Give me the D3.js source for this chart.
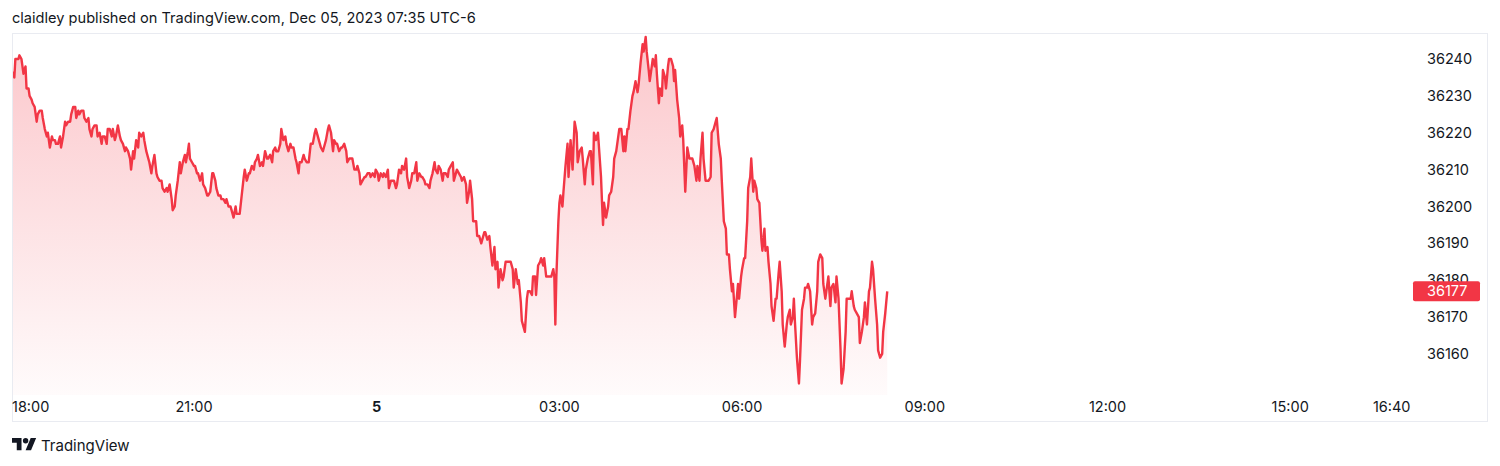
<!DOCTYPE html>
<html><head><meta charset="utf-8">
<script src="https://cdn.jsdelivr.net/npm/d3@7"></script>
<style>
body{margin:0;background:#fff;}
svg{display:block;font-family:Inter,"Open Sans",Roboto,sans-serif;}
</style>
</head><body>
<svg id="chart" width="1500" height="466"></svg>
<script>
// ---- data ----
const headerText = "claidley published on TradingView.com, Dec 05, 2023 07:35 UTC-6";
const brandText = "TradingView";
const sessionStart = new Date(2023, 11, 4, 18, 0);   // Dec 4 18:00
const sessionEnd = new Date(2023, 11, 5, 17, 0);
// minutes after 18:00
const minutes = [0,3,4,7,8,10,11,12,14,15,17,18,20,21,23,25,26,28,30,31,33,35,36,38,40,41,43,44,46,48,49,51,53,54,56,58,59,61,63,64,66,67,69,71,72,74,76,77,79,80,82,84,85,87,89,90,92,94,95,97,99,100,102,103,105,107,108,110,112,113,115,117,118,120,121,123,125,126,128,130,131,133,135,136,138,139,141,143,144,146,148,149,151,153,154,156,158,159,161,162,164,166,167,169,171,172,174,175,176,178,180,181,183,184,186,188,189,191,193,194,196,198,199,201,202,204,206,207,209,211,212,214,216,217,219,221,222,224,225,227,229,230,232,234,235,237,239,240,242,243,245,247,248,250,252,253,255,257,258,260,261,263,265,266,268,270,271,273,275,276,278,280,281,283,284,286,288,289,291,293,
295,297,299,300,302,303,305,307,308,310,312,313,315,317,318,320,321,323,325,326,328,330,331,333,335,336,338,340,341,343,344,346,348,349,351,353,354,356,358,359,361,362,364,366,367,369,371,372,374,376,377,379,380,382,384,385,387,389,390,392,394,395,397,399,400,402,404,405,407,408,410,412,413,415,417,418,420,421,423,425,426,428,430,431,433,435,436,438,439,441,443,444,446,448,449,451,452,454,455,457,458,459,461,463,464,466,467,469,471,472,474,476,477,479,480,482,484,485,487,489,490,492,494,495,497,499,500,502,503,506,508,509,511,513,514,516,517,519,521,522,524,525,527,529,530,532,534,535,536,537,539,540,541,543,544,546,548,549,551,553,554,555,557,558,560,562,563,565,566,568,570,571,573,574,576,578,
579,581,582,583,584,586,588,589,591,593,594,596,598,599,601,603,604,605,607,608,610,612,613,615,617,618,620,622,623,624,625,626,628,629,631,632,634,635,636,638,639,641,642,644,645,647,648,650,652,653,654,656,658,659,661,662,664,665,666,668,670,671,673,675,676,678,679,681,682,684,685,687,689,690,692,694,695,697,699,700,702,704,705,707,708,710,711,713,714,716,717,719,720,722,723,725,726,728,729,731,732,734,735,737,739,740,742,743,745,746,748,749,751,753,754,756,757,759,760,762,764,765,767,768,770,771,772,774,776,777,779,781,782,784,785,787,789,790,792,794,795,797,799,800,802,804,805,807,808,810,812,813,815,817,818,820,822,823,825,827,828,830,831,833,835,836,838,840,841,843,845,846,848,849,851,853,854,856,858,859,861,863];
const prices = [36237,36235,36240,36240,36241,36240,36238,36236,36238,36232,36232,36230,36229,36228,36227,36223,36225,36226,36226,36224,36221,36219,36220,36216,36219,36218,36218,36217,36217,36219,36216,36219,36223,36222,36223,36223,36225,36227,36227,36224,36226,36225,36226,36226,36224,36223,36224,36221,36219,36221,36222,36222,36219,36220,36217,36219,36219,36217,36221,36221,36219,36221,36218,36219,36222,36219,36218,36217,36215,36216,36215,36213,36210,36215,36213,36218,36216,36220,36219,36220,36218,36215,36213,36212,36209,36211,36214,36209,36208,36207,36207,36205,36204,36205,36204,36206,36202,36199,36200,36203,36207,36212,36209,36212,36214,36212,36215,36217,36213,36212,36211,36211,36209,36209,36207,36209,36206,36205,36203,36203,36204,36209,36209,36207,36205,36203,36203,36202,36202,36201,36202,36200,36200,36199,36197,36200,36198,36198,36198,36203,36208,36210,36207,36209,36209,36211,36210,36212,36213,36214,36211,36212,36211,36215,36213,36213,36214,36212,36215,36216,36215,36215,36217,36221,36218,36219,36217,36215,36217,36216,36216,36213,36212,36209,36212,36212,36214,36213,36212,36212,
36217,36217,36220,36221,36219,36218,36216,36215,36216,36218,36221,36222,36220,36215,36218,36217,36217,36215,36216,36216,36217,36215,36212,36213,36213,36213,36210,36210,36211,36209,36206,36207,36208,36208,36209,36209,36208,36209,36208,36210,36209,36207,36209,36208,36209,36208,36210,36205,36207,36207,36207,36205,36206,36210,36209,36211,36210,36213,36208,36205,36207,36209,36209,36212,36207,36209,36208,36208,36207,36206,36206,36205,36207,36209,36212,36210,36209,36211,36210,36207,36209,36209,36208,36210,36211,36212,36207,36209,36210,36209,36208,36207,36208,36206,36201,36204,36207,36202,36196,36196,36196,36192,36192,36190,36191,36193,36193,36191,36192,36189,36184,36189,36183,36185,36178,36183,36180,36181,36185,36185,36185,36185,36183,36178,36183,36179,36180,36174,36169,36166,36175,36177,36177,36176,36181,36181,36176,36184,36185,36186,36184,36186,36181,36181,36181,36181,36183,36181,36168,36181,36196,36201,36203,36200,36204,36211,36217,36208,36218,36210,36217,36223,36220,36212,36215,36216,36213,36206,36210,36213,36215,36215,36206,36220,36218,36220,
36216,36208,36201,36195,36201,36197,36200,36203,36204,36208,36213,36215,36219,36221,36221,36215,36219,36215,36221,36221,36226,36230,36231,36234,36231,36233,36239,36244,36242,36244,36246,36242,36237,36234,36238,36240,36238,36241,36236,36228,36232,36230,36237,36235,36232,36238,36240,36240,36238,36234,36237,36229,36224,36219,36222,36218,36204,36210,36216,36213,36213,36213,36211,36207,36211,36207,36213,36220,36213,36207,36207,36207,36208,36220,36221,36223,36224,36217,36213,36207,36196,36194,36187,36187,36183,36177,36179,36170,36173,36179,36175,36181,36183,36186,36186,36196,36205,36208,36213,36204,36207,36205,36202,36201,36191,36188,36194,36188,36189,36185,36179,36173,36169,36175,36175,36182,36185,36177,36168,36162,36168,36170,36172,36168,36170,36175,36169,36159,36152,36158,36172,36175,36178,36178,36179,36177,36168,36170,36171,36177,36185,36187,36186,36179,36175,36179,36181,36173,36178,36179,36174,36181,36175,36161,36152,36156,36166,36175,36175,36175,36177,36173,36172,36171,36170,36163,36166,36170,36174,36168,36177,36178,36185,36183,36175,36168,36161,36159,36160,36166,36171,36177];
const priceTicks = [36160,36170,36180,36190,36200,36210,36220,36230,36240];
const timeTickDates = [new Date(2023,11,4,18,0),new Date(2023,11,4,21,0),new Date(2023,11,5,0,0),new Date(2023,11,5,3,0),new Date(2023,11,5,6,0),new Date(2023,11,5,9,0),new Date(2023,11,5,12,0),new Date(2023,11,5,15,0),new Date(2023,11,5,16,40)];
const timeTickLabels = ["18:00","21:00","5","03:00","06:00","09:00","12:00","15:00","16:40"];
const lastPriceLabel = "36177";

// ---- layout ----
const panel = {x:12, y:33, w:1476, h:389};
const plot = {left:11.3, right:1412, top:33, bottom:395};
const red = "#f23645", textCol = "#131722";

const svg = d3.select("#chart");
const data = minutes.map((m,i)=>({t:new Date(sessionStart.getTime()+m*60000), p:prices[i]}));

const x = d3.scaleTime().domain([sessionStart, sessionEnd]).range([plot.left, plot.right]);
const y = d3.scaleLinear().domain([36160, 36240]).range([354, 59]);

// header
svg.append("text").attr("x",12).attr("y",23).attr("font-size",14.6).attr("fill",textCol).text(headerText);

// panel border
svg.append("rect").attr("x",panel.x+0.5).attr("y",panel.y+0.5).attr("width",panel.w-1).attr("height",panel.h-1)
  .attr("fill","none").attr("stroke","#e9ebf1");

const defs = svg.append("defs");
const grad = defs.append("linearGradient").attr("id","fillGrad").attr("gradientUnits","userSpaceOnUse")
  .attr("x1",0).attr("x2",0).attr("y1",y(36246)).attr("y2",plot.bottom);
grad.append("stop").attr("offset",0).attr("stop-color",red).attr("stop-opacity",0.28);
grad.append("stop").attr("offset",1).attr("stop-color",red).attr("stop-opacity",0.02);
defs.append("clipPath").attr("id","clipPlot").append("rect")
  .attr("x",panel.x+1).attr("y",panel.y+1).attr("width",plot.right-panel.x).attr("height",plot.bottom-panel.y-1);

const g = svg.append("g").attr("clip-path","url(#clipPlot)");
g.append("path").datum(data)
  .attr("d", d3.area().x(d=>x(d.t)).y0(plot.bottom).y1(d=>y(d.p)))
  .attr("fill","url(#fillGrad)");
g.append("path").datum(data)
  .attr("d", d3.line().x(d=>x(d.t)).y(d=>y(d.p)))
  .attr("fill","none").attr("stroke",red).attr("stroke-width",2.4).attr("stroke-linejoin","round");

// price axis labels
const pa = svg.append("g");
priceTicks.forEach(v=>{
  pa.append("text").attr("x",1427).attr("y",y(v)).attr("dy","0.35em")
    .attr("font-size",14.5).attr("fill",textCol).text(v);
});
// last price label
const lastP = prices[prices.length-1];
svg.append("rect").attr("x",1413).attr("y",y(lastP)-10).attr("width",67).attr("height",20).attr("rx",2).attr("fill",red);
svg.append("text").attr("x",1427).attr("y",y(lastP)).attr("dy","0.35em").attr("font-size",14.5).attr("fill","#fff").text(lastPriceLabel);

// time axis labels
const ta = svg.append("g");
timeTickDates.forEach((d,i)=>{
  const t = ta.append("text").attr("y",407).attr("dy","0.35em").attr("font-size",14.5).attr("fill",textCol)
    .attr("font-weight", timeTickLabels[i]==="5" ? 700 : 400).text(timeTickLabels[i]);
  const cx = x(d);
  const w = t.node().getComputedTextLength();
  let left = cx - w/2;
  if (left < panel.x) left = panel.x;
  t.attr("x", left);
});

// brand
const logo = svg.append("g").attr("transform","translate(12,435.3) scale(0.68)").attr("fill",textCol);
logo.append("path").attr("d","M14 22H7V11H0V4h14v18zM28 22h-8l7.5-18h8L28 22z");
logo.append("circle").attr("cx",20).attr("cy",8).attr("r",4);
svg.append("text").attr("x",41).attr("y",451).attr("font-size",15).attr("fill",textCol).text(brandText);
</script>
</body></html>
